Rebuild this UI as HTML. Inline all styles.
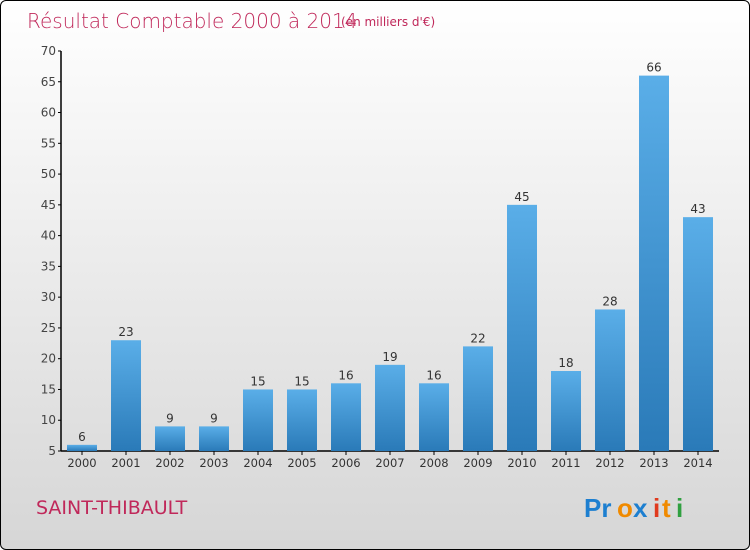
<!DOCTYPE html>
<html><head><meta charset="utf-8"><style>
body{margin:0}
#c{position:relative;width:748px;height:548px;border:1px solid #000;border-radius:6px;overflow:hidden;background:linear-gradient(#ffffff,#d6d6d6);font-family:"DejaVu Sans","Liberation Sans",sans-serif}
</style></head><body>
<div id="c">
<svg width="748" height="548" xmlns="http://www.w3.org/2000/svg">
<defs><linearGradient id="bg" x1="0" y1="0" x2="0" y2="1"><stop offset="0" stop-color="#5aaee8"/><stop offset="1" stop-color="#2a7ab8"/></linearGradient></defs>
<text x="26" y="27" font-size="20" fill="#c0285a" font-weight="200">Résultat Comptable 2000 à 2014</text>
<text x="340" y="25" font-size="12" fill="#c0285a">(en milliers d'€)</text>
<g id="axes"></g><g id="bars"></g>
<text x="35" y="513" font-size="19" fill="#c0285a">SAINT-THIBAULT</text>
<g font-size="26" font-weight="bold" font-family="Liberation Sans,sans-serif">
<text x="583" y="516" fill="#1d7fd0">Pr</text><text x="616" y="516" fill="#f08a00">o</text><text x="632" y="516" fill="#1d7fd0">x</text><text x="652" y="516" fill="#e03a1e">i</text><text x="661" y="516" fill="#f08a00">t</text><text x="675" y="516" fill="#30a040">i</text></g>
</svg></div>
<script>
const years=["2000","2001","2002","2003","2004","2005","2006","2007","2008","2009","2010","2011","2012","2013","2014"];
const values=[6,23,9,9,15,15,16,19,16,22,45,18,28,66,43];
const ticks=[5,10,15,20,25,30,35,40,45,50,55,60,65,70];
const NS="http://www.w3.org/2000/svg";
const y=v=>450-(v-5)*(400/65);
const x=i=>81+i*44;
const ax=document.getElementById('axes'),bg=document.getElementById('bars');
function mk(t,a,p){const e=document.createElementNS(NS,t);for(const k in a)e.setAttribute(k,a[k]);p.appendChild(e);return e;}
const yl=mk('line',{x1:60,y1:y(70),x2:60,y2:450,stroke:'#000','stroke-width':1.5},ax);


const xl=mk('line',{x1:60,y1:450,x2:718,y2:450,stroke:'#000','stroke-width':1.5},ax);


ticks.forEach(t=>{
 const l=mk('line',{x1:57,x2:60,y1:y(t),y2:y(t),stroke:'#000'},ax);
 
 
 const tx=mk('text',{x:55,y:y(t)+4,'text-anchor':'end','font-size':12,fill:'#444'},ax);
 tx.textContent=t;
 
 
});
values.forEach((v,i)=>{
 const r=mk('rect',{x:x(i)-15,y:y(v),width:30,height:450-y(v),fill:'url(#bg)'},bg);
 
 
 const tl=mk('text',{x:x(i),y:y(v)-4,'text-anchor':'middle','font-size':12,fill:'#333'},bg);
 tl.textContent=v;
 
 
 const xt=mk('text',{x:x(i),y:466,'text-anchor':'middle','font-size':11.5,fill:'#333'},bg);
 xt.textContent=years[i];
 
 
 const tk=mk('line',{x1:x(i),x2:x(i),y1:450,y2:454,stroke:'#000'},bg);
 
 
});
</script>
</body></html>
